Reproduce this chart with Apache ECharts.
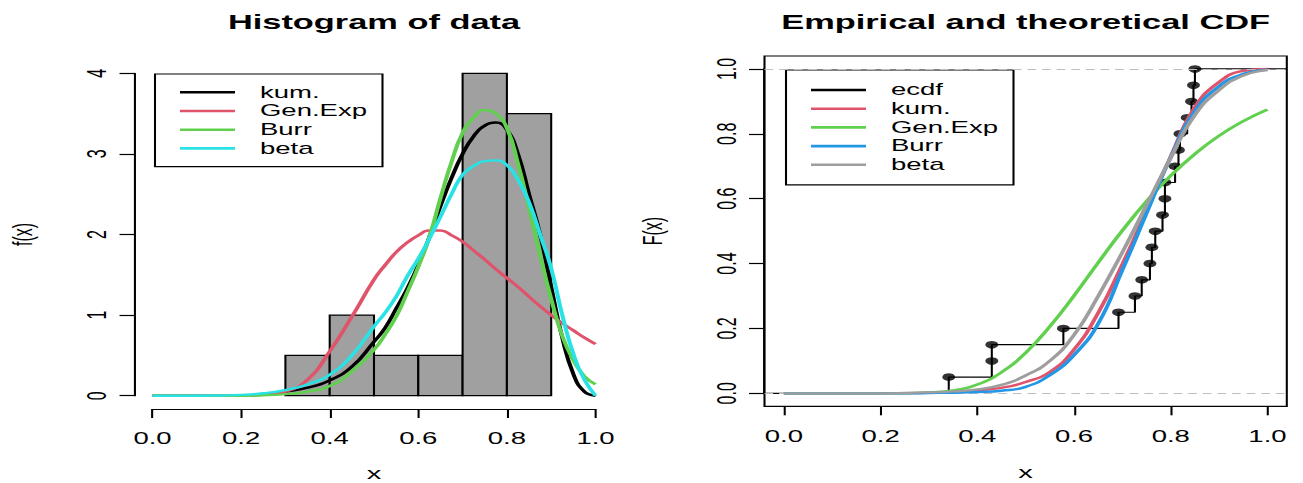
<!DOCTYPE html>
<html>
<head>
<meta charset="utf-8">
<script src="https://cdn.jsdelivr.net/npm/echarts@6/dist/echarts.min.js"></script>
<style>
  html, body { margin: 0; padding: 0; background: #fff; overflow: hidden; }
  #wrap { width: 1303px; height: 483px; overflow: hidden; position: relative; background: #fff; }
  #chart { width: 758px; height: 483px; transform-origin: 0 0; transform: scaleX(1.71900); }
</style>
</head>
<body>
<div id="wrap"><div id="chart"></div></div>
<script>
// ---------------- data ----------------
// histogram (density scale)
const histBreaks = [0.3, 0.4, 0.5, 0.6, 0.7, 0.8, 0.9];
const histDensity = [0.5, 1.0, 0.5, 0.5, 4.0, 3.5];

// fitted densities
const densX = [0, 0.05, 0.1, 0.15, 0.2, 0.25, 0.3, 0.35, 0.4, 0.45, 0.5, 0.525, 0.55, 0.575, 0.6, 0.625, 0.65, 0.675, 0.7, 0.725, 0.75, 0.775, 0.8, 0.825, 0.85, 0.875, 0.9, 0.925, 0.95, 0.975, 1.0];
const kumDens    = [0, 0, 0, 0, 0.003, 0.015, 0.05, 0.10, 0.19, 0.36, 0.67, 0.84, 1.08, 1.33, 1.62, 1.97, 2.35, 2.70, 3.00, 3.22, 3.35, 3.39, 3.30, 3.00, 2.50, 2.00, 1.35, 0.72, 0.27, 0.05, 0];
const genExpDens = [0, 0, 0, 0, 0.002, 0.012, 0.05, 0.20, 0.55, 0.98, 1.44, 1.62, 1.78, 1.90, 1.99, 2.05, 2.05, 1.99, 1.91, 1.80, 1.69, 1.57, 1.46, 1.35, 1.23, 1.11, 1.00, 0.90, 0.81, 0.72, 0.64];
const burrDens   = [0, 0, 0, 0, 0, 0.005, 0.02, 0.05, 0.12, 0.30, 0.57, 0.76, 0.98, 1.28, 1.60, 1.97, 2.45, 2.90, 3.26, 3.45, 3.545, 3.50, 3.32, 2.88, 2.33, 1.74, 1.20, 0.74, 0.44, 0.24, 0.14];
const betaDens   = [0, 0, 0, 0.003, 0.01, 0.03, 0.07, 0.14, 0.26, 0.50, 0.86, 1.03, 1.23, 1.48, 1.70, 1.95, 2.22, 2.50, 2.74, 2.85, 2.91, 2.92, 2.86, 2.68, 2.40, 2.00, 1.58, 1.00, 0.52, 0.20, 0];

// empirical CDF (sorted observations and their cumulative proportions)
const ecdfX = [0.341, 0.430, 0.430, 0.578, 0.692, 0.726, 0.740, 0.757, 0.761, 0.768, 0.783, 0.788, 0.788, 0.809, 0.816, 0.819, 0.834, 0.843, 0.847, 0.850];
const ecdfF = [0.05, 0.10, 0.15, 0.20, 0.25, 0.30, 0.35, 0.40, 0.45, 0.50, 0.55, 0.60, 0.65, 0.70, 0.75, 0.80, 0.85, 0.90, 0.95, 1.00];

// fitted CDFs
const cdfX = [0, 0.05, 0.1, 0.15, 0.2, 0.25, 0.3, 0.35, 0.4, 0.45, 0.5, 0.55, 0.6, 0.65, 0.7, 0.75, 0.8, 0.85, 0.9, 0.95, 1.0];
const kumCdf    = [0, 0, 0, 0, 0, 0.0005, 0.002, 0.005, 0.01, 0.017, 0.035, 0.066, 0.135, 0.248, 0.398, 0.562, 0.730, 0.882, 0.960, 0.994, 1.0];
const genExpCdf = [0, 0, 0, 0, 0, 0.0005, 0.003, 0.009, 0.027, 0.065, 0.125, 0.206, 0.301, 0.403, 0.502, 0.592, 0.671, 0.738, 0.794, 0.839, 0.875];
const burrCdf   = [0, 0, 0, 0, 0, 0, 0.001, 0.002, 0.004, 0.008, 0.020, 0.056, 0.118, 0.215, 0.380, 0.555, 0.728, 0.870, 0.947, 0.985, 0.998];
const betaCdf   = [0, 0, 0, 0, 0, 0.001, 0.003, 0.006, 0.012, 0.026, 0.055, 0.100, 0.180, 0.300, 0.435, 0.580, 0.726, 0.858, 0.935, 0.980, 0.997];

const xTicks01 = ['0.0', '0.2', '0.4', '0.6', '0.8', '1.0'];

// ---------------- layout (reference pixel units, x is stretched) ----------------
const S = 1303 / 758;
const px = v => v / S;
const FONT = '"Liberation Sans", Arial, Helvetica, sans-serif';

const L = { x0: 152.5, x1: 595.5, y0: 395.7, y4: 73.3, yAxisX: 135, xAxisY: 409 };
const R = { boxL: 764.5, boxR: 1286.8, boxT: 56.0, boxB: 406.3 };
const ext = 0.04 / 1.08;
const rW = R.boxR - R.boxL, rH = R.boxB - R.boxT;
const rData = { left: R.boxL + rW * ext, width: rW / 1.08, top: R.boxT + rH * ext, height: rH / 1.08 };

const C = {
  black: '#000000', red: '#DF536B', green: '#61D04F', blue: '#2297E6', cyan: '#28E2E5', gray: '#9E9E9E',
  histFill: '#A0A0A0', dash: '#BEBEBE'
};

const zip = (xs, ys) => xs.map((x, i) => [x, ys[i]]);

function axisX(gridIndex, offset, nameGap) {
  return {
    type: 'value', gridIndex, min: 0, max: 1, interval: 0.2, offset,
    axisLine: { show: true, onZero: false, lineStyle: { color: '#000', width: 1.2 } },
    axisTick: { show: true, length: 9, lineStyle: { color: '#000', width: 1.2 } },
    axisLabel: { margin: 22, fontSize: 16, fontFamily: FONT, color: '#000',
                 formatter: v => xTicks01[Math.round(v / 0.2)] },
    splitLine: { show: false },
    name: 'x', nameLocation: 'middle', nameGap,
    nameTextStyle: { fontSize: 17, lineHeight: 17, fontFamily: FONT, color: '#000' }
  };
}
function axisY(gridIndex, min, max, interval, offset, name, nameGap, fmt) {
  return {
    type: 'value', gridIndex, min, max, interval, offset,
    axisLine: { show: true, onZero: false, lineStyle: { color: '#000', width: 1.2 } },
    axisTick: { show: true, length: 9, lineStyle: { color: '#000', width: 1.2 } },
    axisLabel: { margin: 14, rotate: 90, fontSize: 16, fontFamily: FONT, color: '#000', formatter: fmt },
    splitLine: { show: false },
    name, nameLocation: 'middle', nameGap, nameRotate: 90,
    nameTextStyle: { fontSize: 16, fontFamily: FONT, color: '#000' }
  };
}
function curve(name, xs, ys, color, xi, z) {
  return {
    type: 'line', name, data: zip(xs, ys), xAxisIndex: xi, yAxisIndex: xi,
    smooth: 0.5, symbol: 'none', showSymbol: false, clip: false, z,
    lineStyle: { color, width: 2.4 }, itemStyle: { color }, silent: true
  };
}
function legendBox(names, leftRef, top, padTB, padR) {
  return {
    orient: 'vertical', left: px(leftRef), top, selectedMode: false,
    padding: [padTB, padR, padTB, px(25)],
    itemWidth: px(55), itemHeight: 2.6, itemGap: 2.7, icon: 'rect',
    borderColor: '#000', borderWidth: 1.2, borderRadius: 0, backgroundColor: '#fff',
    textStyle: { fontSize: 16, lineHeight: 16, fontFamily: FONT, color: '#000', padding: [0, 0, 0, px(25) - 5] },
    formatter: n => n.replace('#R', ''),
    data: names
  };
}

const histData = histDensity.map((d, i) => [histBreaks[i], histBreaks[i + 1], d]);
const stepData = [[-0.04, 0]].concat(zip(ecdfX, ecdfF), [[1.04, 1]]);

const gridBase = { containLabel: false, outerBoundsMode: 'none' };

const option = {
  animation: false,
  backgroundColor: '#fff',
  graphic: [
    { type: 'text', x: px(374), y: 22.5, silent: true,
      style: { text: 'Histogram of data', fill: '#000', font: 'bold 20px ' + FONT, textAlign: 'center', textVerticalAlign: 'middle' } },
    { type: 'text', x: px((R.boxL + R.boxR) / 2), y: 22.5, silent: true,
      style: { text: 'Empirical and theoretical CDF', fill: '#000', font: 'bold 20px ' + FONT, textAlign: 'center', textVerticalAlign: 'middle' } }
  ],
  grid: [
    Object.assign({ left: px(L.x0), width: px(L.x1 - L.x0), top: L.y4, height: L.y0 - L.y4 }, gridBase),
    Object.assign({ left: px(rData.left), width: px(rData.width), top: rData.top, height: rData.height }, gridBase),
    Object.assign({ left: px(R.boxL), width: px(rW), top: R.boxT, height: rH, show: true, borderColor: '#000', borderWidth: 1.2, backgroundColor: 'transparent' }, gridBase)
  ],
  xAxis: [
    axisX(0, L.xAxisY - L.y0, 55),
    axisX(1, rH * ext, 57.5),
    { type: 'value', gridIndex: 2, min: -0.04, max: 1.04, show: false }
  ],
  yAxis: [
    axisY(0, 0, 4, 1, px(L.x0 - L.yAxisX), 'f(x)', 57, v => String(v)),
    axisY(1, 0, 1, 0.2, px(rW * ext), 'F(x)', 57, v => xTicks01[Math.round(v / 0.2)]),
    { type: 'value', gridIndex: 2, min: -0.04, max: 1.04, show: false }
  ],
  legend: [
    legendBox(['kum.', 'Gen.Exp', 'Burr', 'beta'], 155, 74, 10.3, 9),
    legendBox(['ecdf#R', 'kum.#R', 'Gen.Exp#R', 'Burr#R', 'beta#R'], 786, 70, 12, 9)
  ],
  series: [
    {
      type: 'custom', name: 'hist', xAxisIndex: 0, yAxisIndex: 0, z: 1, silent: true,
      data: histData, encode: { x: [0, 1], y: 2 },
      renderItem: (params, api) => {
        const p0 = api.coord([api.value(0), 0]);
        const p1 = api.coord([api.value(1), api.value(2)]);
        return { type: 'rect', shape: { x: p0[0], y: p1[1], width: p1[0] - p0[0], height: p0[1] - p1[1] },
                 style: { fill: C.histFill, stroke: '#000', lineWidth: 1.2 } };
      }
    },
    curve('kum.', densX, kumDens, C.black, 0, 3),
    curve('Gen.Exp', densX, genExpDens, C.red, 0, 4),
    curve('Burr', densX, burrDens, C.green, 0, 5),
    curve('beta', densX, betaDens, C.cyan, 0, 6),
    {
      type: 'line', name: 'ecdf#R', data: stepData, xAxisIndex: 2, yAxisIndex: 2, step: 'end',
      symbol: 'none', showSymbol: false, clip: false, z: 2, silent: true,
      lineStyle: { color: '#000', width: 1.2 }, itemStyle: { color: '#000' },
      markLine: {
        silent: true, symbol: 'none', label: { show: false },
        lineStyle: { color: C.dash, width: 1.2, type: [5, 3.5] },
        data: [{ yAxis: 0 }, { yAxis: 1 }]
      }
    },
    {
      type: 'scatter', name: 'ecdf points', data: zip(ecdfX, ecdfF), xAxisIndex: 2, yAxisIndex: 2,
      symbol: 'circle', symbolSize: 7.5, itemStyle: { color: '#000' }, z: 2, silent: true
    },
    curve('kum.#R', cdfX, kumCdf, C.red, 1, 3),
    curve('Gen.Exp#R', cdfX, genExpCdf, C.green, 1, 4),
    curve('Burr#R', cdfX, burrCdf, C.blue, 1, 5),
    curve('beta#R', cdfX, betaCdf, C.gray, 1, 6)
  ]
};

const chart = echarts.init(document.getElementById('chart'), null, { renderer: 'svg', width: 758, height: 483 });
chart.setOption(option);
</script>
</body>
</html>
